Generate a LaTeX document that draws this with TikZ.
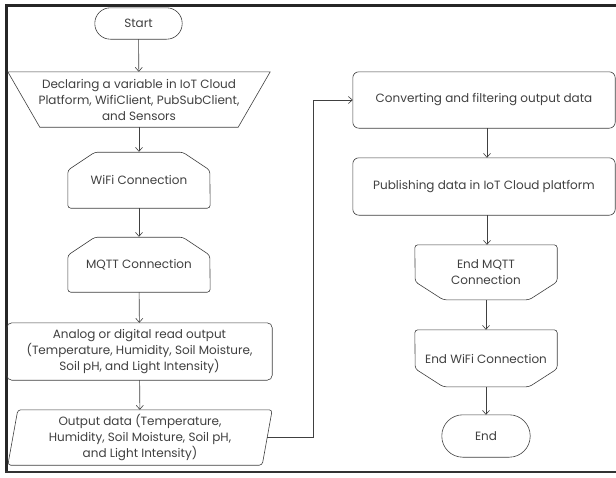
\documentclass[tikz,border=0pt]{standalone}
\usepackage{fontspec}
\setmainfont{Poppins}
\usetikzlibrary{arrows.meta}
\begin{document}
\begin{tikzpicture}[x=1pt,y=-1pt,
  line/.style={draw=black!75, line width=0.6pt},
  holder/.style={draw=none, inner sep=0pt, align=center, text=black!75,
    font=\fontsize{12}{16}\selectfont},
  arr/.style={line, -{Straight Barb[length=4pt,width=7pt]}},
]
\useasboundingbox (0,0) rectangle (616,477);
\fill[white] (0,0) rectangle (616,477);
% frame
\draw[black!85, line width=3pt] (616,5) -- (6,5) -- (6,473);
\draw[black!80, line width=2pt] (5,472) -- (616,472);

% left column
\node[holder, minimum width=87pt, minimum height=31pt] (start) at (138.5,23.5) {Start};
\node[holder, minimum width=262pt, minimum height=55pt] (decl) at (139,99.5)
  {Declaring a variable in IoT Cloud\\Platform, WifiClient, PubSubClient,\\and Sensors};
\node[holder, minimum width=142pt, minimum height=56pt] (wifi) at (139,180) {WiFi Connection};
\node[holder, minimum width=142pt, minimum height=55pt] (mqtt) at (139,264.5) {MQTT Connection};
\node[holder, minimum width=265pt, minimum height=57pt] (read) at (139.5,351.5)
  {Analog or digital read output\\(Temperature, Humidity, Soil Moisture,\\Soil pH, and Light Intensity)};
\node[holder, minimum width=264pt, minimum height=55pt] (out) at (140,437.5)
  {Output data (Temperature,\\Humidity, Soil Moisture, Soil pH,\\and Light Intensity)};

% right column
\node[holder, minimum width=262pt, minimum height=56pt] (conv) at (484,100) {Converting and filtering output data};
\node[holder, minimum width=262pt, minimum height=57pt] (pub) at (484,186.5) {Publishing data in IoT Cloud platform};
\node[holder, minimum width=142pt, minimum height=55pt] (emqtt) at (486,272.5) {End MQTT\\Connection};
\node[holder, minimum width=142pt, minimum height=57pt] (ewifi) at (486,358.5) {End WiFi Connection};
\node[holder, minimum width=88pt, minimum height=42pt] (end) at (486,436) {End};

% outlines
\draw[line, rounded corners=15.5pt] (start.north west) rectangle (start.south east);
\draw[line] (decl.north west) -- (decl.north east) -- ([xshift=-32pt]decl.south east)
  -- ([xshift=32pt]decl.south west) -- cycle;
\draw[line, rounded corners=3pt] (wifi.south west) -- ++(0,-38) -- ++(27,-18) -- ++(88,0)
  -- ++(27,18) -- (wifi.south east) -- cycle;
\draw[line, rounded corners=3pt] (mqtt.south west) -- ++(0,-37) -- ++(27,-18) -- ++(88,0)
  -- ++(27,18) -- (mqtt.south east) -- cycle;
\draw[line, rounded corners=5pt] (read.north west) rectangle (read.south east);
\draw[line, rounded corners=3pt] ([xshift=10pt]out.north west) -- (out.north east)
  -- ([xshift=-10pt]out.south east) -- (out.south west) -- cycle;
\draw[line, rounded corners=6pt] (conv.north west) rectangle (conv.south east);
\draw[line, rounded corners=6pt] (pub.north west) rectangle (pub.south east);
\draw[line, rounded corners=3pt] (emqtt.north west) -- (emqtt.north east) -- ++(0,37)
  -- ++(-28,18) -- ++(-86,0) -- ++(-28,-18) -- cycle;
\draw[line, rounded corners=3pt] (ewifi.north west) -- (ewifi.north east) -- ++(0,39)
  -- ++(-28,18) -- ++(-86,0) -- ++(-28,-18) -- cycle;
\draw[line, rounded corners=21pt] (end.north west) rectangle (end.south east);

% connectors
\draw[arr] (start) -- (decl);
\draw[arr] (decl) -- (wifi);
\draw[arr] (wifi) -- (mqtt);
\draw[arr] (mqtt) -- (read);
\draw[arr] (read) -- (out);
\coordinate (jx) at (313,0);
\draw[arr] ([xshift=-5pt]out.east) -- (out.east -| jx) |- (conv.west);
\draw[arr] (conv.south -| 487,0) -- (pub.north -| 487,0);
\draw[arr] (pub.south -| 487,0) -- (emqtt.north -| 487,0);
\draw[arr] (emqtt) -- (ewifi);
\draw[arr] (ewifi) -- (end);
\end{tikzpicture}
\end{document}
